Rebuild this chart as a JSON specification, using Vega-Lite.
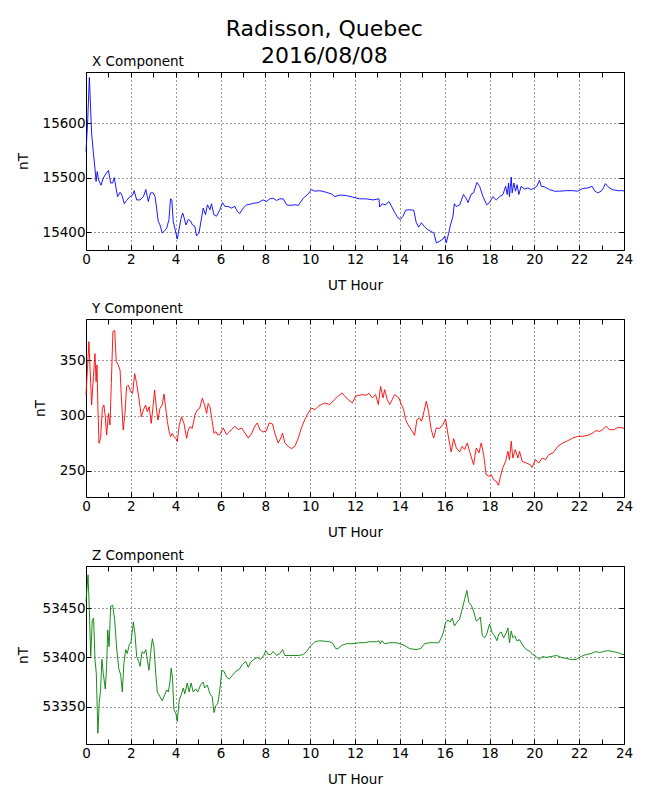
{
  "$schema": "https://vega.github.io/schema/vega-lite/v6.json",
  "title": {"text": ["Radisson, Quebec", "2016/08/08"], "fontSize": 22, "lineHeight": 27, "anchor": "middle", "fontWeight": "normal", "offset": -13},
  "padding": {"left": 15, "top": 17, "right": 5, "bottom": 5},
  "bounds": "flush",
  "spacing": 69,
  "datasets": {
    "bx": [
      {"h":0,"nT":15548},{"h":0.07,"nT":15600},{"h":0.15,"nT":15684},{"h":0.25,"nT":15582},{"h":0.33,"nT":15545},{"h":0.4,"nT":15517},{"h":0.45,"nT":15493},{"h":0.5,"nT":15511},{"h":0.56,"nT":15496},{"h":0.67,"nT":15486},{"h":0.77,"nT":15499},{"h":0.9,"nT":15508},{"h":1.0,"nT":15513},{"h":1.1,"nT":15490},{"h":1.19,"nT":15490},{"h":1.26,"nT":15500},{"h":1.34,"nT":15481},{"h":1.41,"nT":15465},{"h":1.52,"nT":15473},{"h":1.6,"nT":15468},{"h":1.71,"nT":15452},{"h":1.81,"nT":15458},{"h":1.96,"nT":15465},{"h":2.08,"nT":15468},{"h":2.15,"nT":15476},{"h":2.26,"nT":15459},{"h":2.41,"nT":15459},{"h":2.56,"nT":15465},{"h":2.67,"nT":15478},{"h":2.78,"nT":15456},{"h":2.88,"nT":15472},{"h":3.0,"nT":15472},{"h":3.08,"nT":15465},{"h":3.15,"nT":15444},{"h":3.22,"nT":15420},{"h":3.3,"nT":15413},{"h":3.4,"nT":15398},{"h":3.52,"nT":15403},{"h":3.6,"nT":15407},{"h":3.7,"nT":15423},{"h":3.77,"nT":15461},{"h":3.83,"nT":15459},{"h":3.89,"nT":15420},{"h":3.98,"nT":15404},{"h":4.07,"nT":15387},{"h":4.16,"nT":15407},{"h":4.23,"nT":15423},{"h":4.31,"nT":15435},{"h":4.38,"nT":15426},{"h":4.46,"nT":15413},{"h":4.56,"nT":15423},{"h":4.67,"nT":15420},{"h":4.75,"nT":15413},{"h":4.86,"nT":15410},{"h":4.93,"nT":15393},{"h":5.04,"nT":15398},{"h":5.13,"nT":15420},{"h":5.23,"nT":15444},{"h":5.33,"nT":15432},{"h":5.42,"nT":15450},{"h":5.53,"nT":15441},{"h":5.6,"nT":15452},{"h":5.7,"nT":15432},{"h":5.82,"nT":15429},{"h":5.97,"nT":15441},{"h":6.09,"nT":15454},{"h":6.2,"nT":15447},{"h":6.34,"nT":15447},{"h":6.49,"nT":15444},{"h":6.64,"nT":15447},{"h":6.75,"nT":15438},{"h":6.86,"nT":15434},{"h":7.01,"nT":15444},{"h":7.16,"nT":15450},{"h":7.31,"nT":15451},{"h":7.49,"nT":15453},{"h":7.68,"nT":15454},{"h":7.9,"nT":15459},{"h":8.05,"nT":15456},{"h":8.2,"nT":15461},{"h":8.35,"nT":15462},{"h":8.5,"nT":15458},{"h":8.65,"nT":15461},{"h":8.8,"nT":15461},{"h":8.95,"nT":15450},{"h":9.1,"nT":15449},{"h":9.32,"nT":15450},{"h":9.47,"nT":15449},{"h":9.69,"nT":15462},{"h":9.91,"nT":15470},{"h":10.06,"nT":15478},{"h":10.2,"nT":15475},{"h":10.43,"nT":15476},{"h":10.72,"nT":15473},{"h":10.95,"nT":15470},{"h":11.1,"nT":15465},{"h":11.32,"nT":15468},{"h":11.61,"nT":15467},{"h":11.91,"nT":15464},{"h":12.21,"nT":15461},{"h":12.5,"nT":15461},{"h":12.8,"nT":15459},{"h":13.07,"nT":15461},{"h":13.1,"nT":15446},{"h":13.22,"nT":15452},{"h":13.35,"nT":15450},{"h":13.52,"nT":15456},{"h":13.62,"nT":15448},{"h":13.77,"nT":15436},{"h":13.92,"nT":15426},{"h":14.02,"nT":15423},{"h":14.14,"nT":15429},{"h":14.26,"nT":15440},{"h":14.41,"nT":15441},{"h":14.62,"nT":15440},{"h":14.73,"nT":15418},{"h":14.84,"nT":15409},{"h":14.96,"nT":15417},{"h":15.1,"nT":15410},{"h":15.25,"nT":15404},{"h":15.4,"nT":15401},{"h":15.52,"nT":15398},{"h":15.63,"nT":15380},{"h":15.77,"nT":15383},{"h":15.92,"nT":15387},{"h":16.0,"nT":15392},{"h":16.07,"nT":15380},{"h":16.18,"nT":15398},{"h":16.26,"nT":15413},{"h":16.37,"nT":15429},{"h":16.43,"nT":15452},{"h":16.52,"nT":15447},{"h":16.67,"nT":15450},{"h":16.84,"nT":15469},{"h":16.96,"nT":15462},{"h":17.04,"nT":15454},{"h":17.19,"nT":15470},{"h":17.29,"nT":15472},{"h":17.44,"nT":15491},{"h":17.56,"nT":15484},{"h":17.71,"nT":15465},{"h":17.88,"nT":15450},{"h":18.0,"nT":15454},{"h":18.15,"nT":15465},{"h":18.3,"nT":15459},{"h":18.45,"nT":15465},{"h":18.6,"nT":15469},{"h":18.72,"nT":15484},{"h":18.79,"nT":15469},{"h":18.85,"nT":15490},{"h":18.89,"nT":15465},{"h":18.97,"nT":15501},{"h":19.01,"nT":15472},{"h":19.09,"nT":15490},{"h":19.16,"nT":15475},{"h":19.23,"nT":15487},{"h":19.31,"nT":15469},{"h":19.41,"nT":15484},{"h":19.56,"nT":15479},{"h":19.71,"nT":15481},{"h":19.86,"nT":15478},{"h":20.01,"nT":15481},{"h":20.11,"nT":15484},{"h":20.23,"nT":15495},{"h":20.31,"nT":15484},{"h":20.45,"nT":15483},{"h":20.68,"nT":15478},{"h":20.9,"nT":15475},{"h":21.12,"nT":15475},{"h":21.42,"nT":15476},{"h":21.72,"nT":15476},{"h":21.94,"nT":15475},{"h":22.16,"nT":15480},{"h":22.39,"nT":15481},{"h":22.58,"nT":15484},{"h":22.68,"nT":15476},{"h":22.83,"nT":15472},{"h":22.98,"nT":15475},{"h":23.08,"nT":15481},{"h":23.17,"nT":15489},{"h":23.29,"nT":15483},{"h":23.47,"nT":15478},{"h":23.72,"nT":15476},{"h":23.95,"nT":15476},{"h":24,"nT":15475}
    ],
    "by": [
      {"h":0,"nT":318.7},{"h":0.13,"nT":366.9},{"h":0.21,"nT":329},{"h":0.25,"nT":309.6},{"h":0.33,"nT":335},{"h":0.4,"nT":356},{"h":0.45,"nT":330.7},{"h":0.49,"nT":345.8},{"h":0.53,"nT":308},{"h":0.58,"nT":275},{"h":0.65,"nT":279.5},{"h":0.73,"nT":306.6},{"h":0.8,"nT":309.6},{"h":0.86,"nT":299},{"h":0.92,"nT":282.5},{"h":1.0,"nT":302},{"h":1.07,"nT":291.6},{"h":1.13,"nT":329},{"h":1.2,"nT":376},{"h":1.28,"nT":377},{"h":1.35,"nT":348.8},{"h":1.44,"nT":345.8},{"h":1.52,"nT":341},{"h":1.57,"nT":320},{"h":1.66,"nT":287},{"h":1.74,"nT":302},{"h":1.81,"nT":326},{"h":1.89,"nT":327.7},{"h":1.99,"nT":321.7},{"h":2.08,"nT":320},{"h":2.17,"nT":338},{"h":2.26,"nT":329},{"h":2.36,"nT":315.7},{"h":2.47,"nT":299},{"h":2.56,"nT":305},{"h":2.66,"nT":309.6},{"h":2.73,"nT":303.6},{"h":2.82,"nT":308},{"h":2.91,"nT":293},{"h":2.99,"nT":308},{"h":3.06,"nT":323},{"h":3.15,"nT":305},{"h":3.21,"nT":296},{"h":3.3,"nT":306.6},{"h":3.4,"nT":309.6},{"h":3.48,"nT":319.5},{"h":3.55,"nT":308},{"h":3.63,"nT":294.6},{"h":3.71,"nT":285.5},{"h":3.77,"nT":281},{"h":3.85,"nT":284},{"h":3.92,"nT":281},{"h":4.01,"nT":279.5},{"h":4.07,"nT":276.5},{"h":4.16,"nT":291.6},{"h":4.26,"nT":299},{"h":4.37,"nT":293},{"h":4.49,"nT":279.5},{"h":4.56,"nT":287},{"h":4.64,"nT":290},{"h":4.74,"nT":288.5},{"h":4.86,"nT":300.6},{"h":4.96,"nT":305},{"h":5.07,"nT":306.6},{"h":5.19,"nT":315.7},{"h":5.29,"nT":309.6},{"h":5.38,"nT":302},{"h":5.45,"nT":311},{"h":5.53,"nT":308},{"h":5.6,"nT":299},{"h":5.71,"nT":284},{"h":5.8,"nT":285.5},{"h":5.88,"nT":282.5},{"h":5.97,"nT":282.8},{"h":6.12,"nT":288.9},{"h":6.27,"nT":282.8},{"h":6.39,"nT":285.2},{"h":6.49,"nT":287.3},{"h":6.64,"nT":290.4},{"h":6.79,"nT":287.3},{"h":6.94,"nT":288.9},{"h":7.09,"nT":284.3},{"h":7.24,"nT":279.8},{"h":7.38,"nT":283.4},{"h":7.53,"nT":290.4},{"h":7.64,"nT":293.4},{"h":7.76,"nT":287.3},{"h":7.9,"nT":285.2},{"h":8.05,"nT":286.4},{"h":8.17,"nT":293.4},{"h":8.32,"nT":292.5},{"h":8.42,"nT":284.3},{"h":8.57,"nT":275.3},{"h":8.69,"nT":279.8},{"h":8.77,"nT":284.3},{"h":8.87,"nT":275.3},{"h":9.02,"nT":272.3},{"h":9.17,"nT":270.2},{"h":9.32,"nT":272.3},{"h":9.47,"nT":279.8},{"h":9.61,"nT":288.9},{"h":9.76,"nT":296.4},{"h":9.91,"nT":302.4},{"h":10.06,"nT":306.9},{"h":10.21,"nT":305.4},{"h":10.36,"nT":308.4},{"h":10.51,"nT":310},{"h":10.65,"nT":311.4},{"h":10.87,"nT":310},{"h":11.09,"nT":314.5},{"h":11.24,"nT":317.5},{"h":11.42,"nT":320.5},{"h":11.61,"nT":316},{"h":11.88,"nT":311.4},{"h":12.03,"nT":317.5},{"h":12.28,"nT":319},{"h":12.5,"nT":318.4},{"h":12.62,"nT":320.2},{"h":12.77,"nT":316},{"h":12.92,"nT":319},{"h":13.04,"nT":310},{"h":13.14,"nT":326.5},{"h":13.25,"nT":316},{"h":13.32,"nT":323.5},{"h":13.44,"nT":314.5},{"h":13.55,"nT":310},{"h":13.66,"nT":314.5},{"h":13.77,"nT":319},{"h":13.96,"nT":316},{"h":14.07,"nT":310},{"h":14.17,"nT":305.4},{"h":14.26,"nT":296.4},{"h":14.36,"nT":291.9},{"h":14.51,"nT":287.3},{"h":14.66,"nT":282.2},{"h":14.76,"nT":296.4},{"h":14.88,"nT":297.9},{"h":14.97,"nT":294.9},{"h":15.06,"nT":302.4},{"h":15.18,"nT":313},{"h":15.28,"nT":303.9},{"h":15.4,"nT":287.3},{"h":15.51,"nT":279.8},{"h":15.63,"nT":288.9},{"h":15.77,"nT":288.3},{"h":15.92,"nT":291.9},{"h":16.04,"nT":297},{"h":16.15,"nT":282.8},{"h":16.29,"nT":267.2},{"h":16.4,"nT":279.2},{"h":16.52,"nT":270.8},{"h":16.67,"nT":267.2},{"h":16.78,"nT":272.3},{"h":16.89,"nT":269.3},{"h":17.01,"nT":275.3},{"h":17.11,"nT":267.8},{"h":17.29,"nT":255.7},{"h":17.41,"nT":270.8},{"h":17.53,"nT":266.3},{"h":17.63,"nT":275.3},{"h":17.74,"nT":264.8},{"h":17.85,"nT":246.7},{"h":17.97,"nT":245.2},{"h":18.08,"nT":246.7},{"h":18.18,"nT":242.2},{"h":18.3,"nT":240.7},{"h":18.4,"nT":237},{"h":18.49,"nT":245.2},{"h":18.6,"nT":253.3},{"h":18.72,"nT":258.7},{"h":18.82,"nT":267.8},{"h":18.89,"nT":260.2},{"h":18.97,"nT":276.8},{"h":19.04,"nT":261.7},{"h":19.15,"nT":269.3},{"h":19.27,"nT":261.7},{"h":19.34,"nT":267.8},{"h":19.46,"nT":258.7},{"h":19.64,"nT":257.2},{"h":19.82,"nT":255.7},{"h":19.9,"nT":253.3},{"h":20.05,"nT":260.2},{"h":20.2,"nT":257.2},{"h":20.35,"nT":261.7},{"h":20.5,"nT":260.2},{"h":20.65,"nT":264.8},{"h":20.83,"nT":266.3},{"h":21.05,"nT":272.3},{"h":21.27,"nT":275.3},{"h":21.5,"nT":277.4},{"h":21.72,"nT":279.8},{"h":21.94,"nT":281.3},{"h":22.16,"nT":281.3},{"h":22.39,"nT":282.2},{"h":22.61,"nT":284.3},{"h":22.73,"nT":286.4},{"h":22.91,"nT":285.8},{"h":23.05,"nT":287.3},{"h":23.2,"nT":290.4},{"h":23.35,"nT":287.3},{"h":23.57,"nT":287.3},{"h":23.72,"nT":289.5},{"h":23.95,"nT":288.9},{"h":24,"nT":288.5}
    ],
    "bz": [
      {"h":0,"nT":53457},{"h":0.09,"nT":53484},{"h":0.15,"nT":53448},{"h":0.21,"nT":53401},{"h":0.28,"nT":53438},{"h":0.34,"nT":53440},{"h":0.4,"nT":53398},{"h":0.46,"nT":53384},{"h":0.53,"nT":53323},{"h":0.59,"nT":53354},{"h":0.65,"nT":53367},{"h":0.71,"nT":53398},{"h":0.77,"nT":53384},{"h":0.86,"nT":53368},{"h":0.92,"nT":53391},{"h":0.97,"nT":53428},{"h":1.03,"nT":53411},{"h":1.1,"nT":53452},{"h":1.19,"nT":53453},{"h":1.28,"nT":53438},{"h":1.37,"nT":53409},{"h":1.46,"nT":53389},{"h":1.55,"nT":53382},{"h":1.62,"nT":53365},{"h":1.69,"nT":53394},{"h":1.77,"nT":53408},{"h":1.84,"nT":53404},{"h":1.93,"nT":53413},{"h":2.01,"nT":53416},{"h":2.11,"nT":53436},{"h":2.18,"nT":53425},{"h":2.26,"nT":53401},{"h":2.35,"nT":53396},{"h":2.41,"nT":53391},{"h":2.5,"nT":53406},{"h":2.59,"nT":53404},{"h":2.67,"nT":53408},{"h":2.73,"nT":53398},{"h":2.81,"nT":53387},{"h":2.88,"nT":53404},{"h":2.96,"nT":53419},{"h":3.03,"nT":53411},{"h":3.11,"nT":53384},{"h":3.18,"nT":53365},{"h":3.3,"nT":53360},{"h":3.4,"nT":53356},{"h":3.51,"nT":53362},{"h":3.6,"nT":53367},{"h":3.67,"nT":53365},{"h":3.74,"nT":53374},{"h":3.8,"nT":53389},{"h":3.86,"nT":53379},{"h":3.92,"nT":53347},{"h":4.01,"nT":53343},{"h":4.07,"nT":53335},{"h":4.16,"nT":53357},{"h":4.25,"nT":53362},{"h":4.34,"nT":53369},{"h":4.41,"nT":53363},{"h":4.52,"nT":53374},{"h":4.6,"nT":53365},{"h":4.69,"nT":53374},{"h":4.78,"nT":53365},{"h":4.89,"nT":53368},{"h":4.99,"nT":53365},{"h":5.11,"nT":53372},{"h":5.23,"nT":53375},{"h":5.29,"nT":53369},{"h":5.41,"nT":53372},{"h":5.53,"nT":53363},{"h":5.63,"nT":53360},{"h":5.71,"nT":53344},{"h":5.79,"nT":53351},{"h":5.88,"nT":53353},{"h":5.97,"nT":53367},{"h":6.06,"nT":53387},{"h":6.15,"nT":53386},{"h":6.27,"nT":53380},{"h":6.39,"nT":53378},{"h":6.54,"nT":53382},{"h":6.69,"nT":53386},{"h":6.84,"nT":53388},{"h":6.98,"nT":53393},{"h":7.13,"nT":53396},{"h":7.24,"nT":53390},{"h":7.34,"nT":53395},{"h":7.49,"nT":53398},{"h":7.64,"nT":53400},{"h":7.79,"nT":53398},{"h":7.93,"nT":53402},{"h":8.02,"nT":53407},{"h":8.13,"nT":53403},{"h":8.23,"nT":53403},{"h":8.35,"nT":53406},{"h":8.5,"nT":53402},{"h":8.65,"nT":53404},{"h":8.77,"nT":53408},{"h":8.87,"nT":53402},{"h":9.02,"nT":53402},{"h":9.24,"nT":53402},{"h":9.47,"nT":53402},{"h":9.69,"nT":53403},{"h":9.84,"nT":53406},{"h":9.99,"nT":53411},{"h":10.21,"nT":53416},{"h":10.43,"nT":53417},{"h":10.87,"nT":53416},{"h":11.02,"nT":53414},{"h":11.14,"nT":53409},{"h":11.24,"nT":53409},{"h":11.39,"nT":53412},{"h":11.61,"nT":53414},{"h":11.91,"nT":53414},{"h":12.21,"nT":53415},{"h":12.43,"nT":53415},{"h":12.65,"nT":53416},{"h":12.95,"nT":53416},{"h":13.07,"nT":53417},{"h":13.13,"nT":53414},{"h":13.19,"nT":53417},{"h":13.32,"nT":53414},{"h":13.55,"nT":53415},{"h":13.84,"nT":53415},{"h":14.14,"nT":53413},{"h":14.44,"nT":53409},{"h":14.73,"nT":53408},{"h":14.93,"nT":53409},{"h":15.1,"nT":53414},{"h":15.33,"nT":53415},{"h":15.55,"nT":53415},{"h":15.74,"nT":53415},{"h":15.85,"nT":53420},{"h":15.95,"nT":53426},{"h":16.04,"nT":53436},{"h":16.15,"nT":53438},{"h":16.25,"nT":53436},{"h":16.34,"nT":53440},{"h":16.44,"nT":53432},{"h":16.55,"nT":53436},{"h":16.67,"nT":53439},{"h":16.78,"nT":53449},{"h":16.89,"nT":53459},{"h":16.99,"nT":53468},{"h":17.08,"nT":53456},{"h":17.19,"nT":53453},{"h":17.29,"nT":53447},{"h":17.41,"nT":53437},{"h":17.53,"nT":53439},{"h":17.59,"nT":53441},{"h":17.68,"nT":53422},{"h":17.78,"nT":53420},{"h":17.88,"nT":53424},{"h":18.0,"nT":53434},{"h":18.12,"nT":53425},{"h":18.23,"nT":53422},{"h":18.33,"nT":53417},{"h":18.42,"nT":53424},{"h":18.52,"nT":53426},{"h":18.63,"nT":53420},{"h":18.75,"nT":53425},{"h":18.82,"nT":53430},{"h":18.89,"nT":53415},{"h":18.97,"nT":53427},{"h":19.04,"nT":53420},{"h":19.13,"nT":53422},{"h":19.22,"nT":53417},{"h":19.34,"nT":53418},{"h":19.49,"nT":53412},{"h":19.64,"nT":53408},{"h":19.82,"nT":53406},{"h":19.93,"nT":53403},{"h":20.08,"nT":53401},{"h":20.2,"nT":53398},{"h":20.38,"nT":53401},{"h":20.53,"nT":53400},{"h":20.75,"nT":53401},{"h":21.0,"nT":53402},{"h":21.2,"nT":53400},{"h":21.42,"nT":53399},{"h":21.64,"nT":53398},{"h":21.87,"nT":53398},{"h":22.09,"nT":53401},{"h":22.31,"nT":53403},{"h":22.54,"nT":53404},{"h":22.73,"nT":53406},{"h":22.91,"nT":53405},{"h":23.08,"nT":53406},{"h":23.28,"nT":53407},{"h":23.5,"nT":53406},{"h":23.72,"nT":53405},{"h":23.95,"nT":53403},{"h":24,"nT":53403}
    ]
  },
  "vconcat": [
    {
      "width": 538, "height": 178,
      "title": {"text": "X Component", "anchor": "start", "frame": "group", "dx": 6, "offset": 3},
      "data": {"name": "bx"},
      "layer": [
        {
          "mark": {"type": "line", "color": "#0000ff", "strokeWidth": 0.9},
          "encoding": {
            "x": {"field": "h", "type": "quantitative", "scale": {"domain": [0, 24], "nice": false, "zero": false},
                  "axis": {"orient": "bottom", "title": "UT Hour", "values": [0,1,2,3,4,5,6,7,8,9,10,11,12,13,14,15,16,17,18,19,20,21,22,23,24],
                           "labelExpr": "datum.value % 2 === 0 ? datum.label : ''", "grid": true,
                           "gridOpacity": {"condition": {"test": "datum.value % 2 === 0", "value": 1}, "value": 0}}},
            "y": {"field": "nT", "type": "quantitative", "scale": {"domain": [15367, 15694], "nice": false, "zero": false},
                  "axis": {"orient": "left", "title": "nT", "values": [15400, 15500, 15600], "format": "d", "grid": true}}
          }
        },
        {
          "mark": {"type": "line", "opacity": 0},
          "encoding": {
            "x": {"field": "h", "type": "quantitative", "axis": {"orient": "top", "title": null, "labels": false, "grid": false, "values": [0,1,2,3,4,5,6,7,8,9,10,11,12,13,14,15,16,17,18,19,20,21,22,23,24]}},
            "y": {"field": "nT", "type": "quantitative", "axis": {"orient": "right", "title": null, "labels": false, "grid": false, "values": [15400, 15500, 15600]}}
          }
        }
      ]
    },
    {
      "width": 538, "height": 178,
      "title": {"text": "Y Component", "anchor": "start", "frame": "group", "dx": 6, "offset": 3},
      "data": {"name": "by"},
      "layer": [
        {
          "mark": {"type": "line", "color": "#ff0000", "strokeWidth": 0.9},
          "encoding": {
            "x": {"field": "h", "type": "quantitative", "scale": {"domain": [0, 24], "nice": false, "zero": false},
                  "axis": {"orient": "bottom", "title": "UT Hour", "values": [0,1,2,3,4,5,6,7,8,9,10,11,12,13,14,15,16,17,18,19,20,21,22,23,24],
                           "labelExpr": "datum.value % 2 === 0 ? datum.label : ''", "grid": true,
                           "gridOpacity": {"condition": {"test": "datum.value % 2 === 0", "value": 1}, "value": 0}}},
            "y": {"field": "nT", "type": "quantitative", "scale": {"domain": [226.5, 387.3], "nice": false, "zero": false},
                  "axis": {"orient": "left", "title": "nT", "values": [250, 300, 350], "format": "d", "grid": true}}
          }
        },
        {
          "mark": {"type": "line", "opacity": 0},
          "encoding": {
            "x": {"field": "h", "type": "quantitative", "axis": {"orient": "top", "title": null, "labels": false, "grid": false, "values": [0,1,2,3,4,5,6,7,8,9,10,11,12,13,14,15,16,17,18,19,20,21,22,23,24]}},
            "y": {"field": "nT", "type": "quantitative", "axis": {"orient": "right", "title": null, "labels": false, "grid": false, "values": [250, 300, 350]}}
          }
        }
      ]
    },
    {
      "width": 538, "height": 178,
      "title": {"text": "Z Component", "anchor": "start", "frame": "group", "dx": 6, "offset": 3},
      "data": {"name": "bz"},
      "layer": [
        {
          "mark": {"type": "line", "color": "#008000", "strokeWidth": 0.9},
          "encoding": {
            "x": {"field": "h", "type": "quantitative", "scale": {"domain": [0, 24], "nice": false, "zero": false},
                  "axis": {"orient": "bottom", "title": "UT Hour", "values": [0,1,2,3,4,5,6,7,8,9,10,11,12,13,14,15,16,17,18,19,20,21,22,23,24],
                           "labelExpr": "datum.value % 2 === 0 ? datum.label : ''", "grid": true,
                           "gridOpacity": {"condition": {"test": "datum.value % 2 === 0", "value": 1}, "value": 0}}},
            "y": {"field": "nT", "type": "quantitative", "scale": {"domain": [53312, 53493], "nice": false, "zero": false},
                  "axis": {"orient": "left", "title": "nT", "values": [53350, 53400, 53450], "format": "d", "grid": true}}
          }
        },
        {
          "mark": {"type": "line", "opacity": 0},
          "encoding": {
            "x": {"field": "h", "type": "quantitative", "axis": {"orient": "top", "title": null, "labels": false, "grid": false, "values": [0,1,2,3,4,5,6,7,8,9,10,11,12,13,14,15,16,17,18,19,20,21,22,23,24]}},
            "y": {"field": "nT", "type": "quantitative", "axis": {"orient": "right", "title": null, "labels": false, "grid": false, "values": [53350, 53400, 53450]}}
          }
        }
      ]
    }
  ],
  "config": {
    "background": "white",
    "font": "DejaVu Sans",
    "view": {"stroke": "#000000", "strokeWidth": 1},
    "title": {"font": "DejaVu Sans", "fontSize": 13.5, "fontWeight": "normal", "color": "#000000"},
    "axis": {
      "domain": false,
      "labelFont": "DejaVu Sans", "labelFontSize": 13.5, "labelColor": "#000000",
      "labelFlush": false, "labelOverlap": false, "labelPadding": 7,
      "titleFont": "DejaVu Sans", "titleFontSize": 13.5, "titleFontWeight": "normal", "titleColor": "#000000",
      "tickColor": "#000000", "tickSize": -5, "tickWidth": 1,
      "gridColor": "#000000", "gridDash": [1, 3], "gridWidth": 0.8
    },
    "axisX": {"titlePadding": 13, "labelPadding": 7},
    "axisY": {"titlePadding": 12, "labelPadding": 6}
  }
}
